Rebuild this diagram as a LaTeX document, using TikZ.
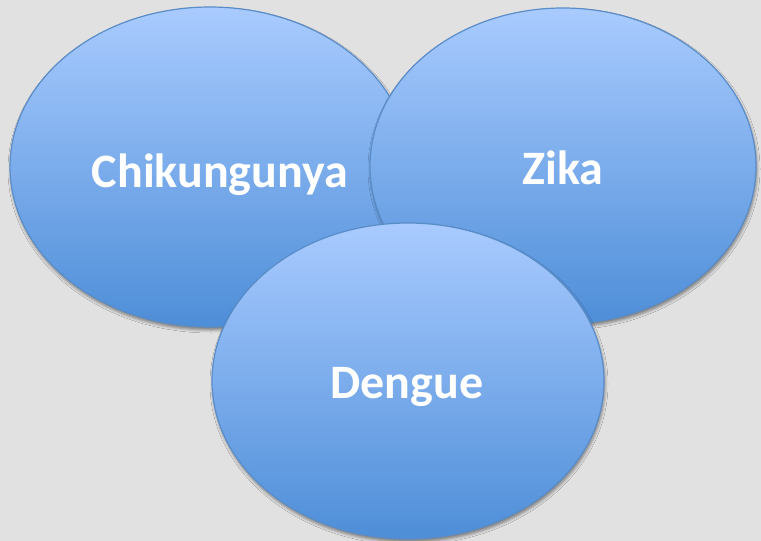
\documentclass[tikz,border=0pt]{standalone}
\usepackage{fontspec}
\setmainfont{Carlito}
\usetikzlibrary{shapes.geometric,shadows.blur}
\definecolor{bg}{HTML}{E1E1E1}
\definecolor{ctop}{HTML}{A9CBFF}
\definecolor{cbot}{HTML}{4E8ED8}
\definecolor{cline}{HTML}{5A8DC8}
\begin{document}
\begin{tikzpicture}[x=1pt,y=-1pt,
  blob/.style={ellipse, draw=cline, line width=1.2pt, top color=ctop, bottom color=cbot,
    inner sep=0pt, blur shadow={shadow xshift=1pt, shadow yshift=-3pt,
    shadow blur radius=3pt, shadow opacity=45}},
  lbl/.style={text=white, font=\fontsize{48}{52}\selectfont\bfseries, anchor=base, inner sep=0pt}]
\fill[bg] (0,0) rectangle (761,541);
\useasboundingbox (0,0) rectangle (761,541);
\node[blob, minimum width=400pt, minimum height=320pt] (chik) at (210,167) {};
\node[blob, minimum width=386pt, minimum height=316pt] (zika) at (563,166) {};
\node[blob, minimum width=392pt, minimum height=316pt] (deng) at (408,381) {};
\node[lbl] (tchik) at (220,187) {Chikungunya};
\node[lbl] (tzika) at (563,184) {Zika};
\node[lbl] (tdeng) at (407,398) {Dengue};
\end{tikzpicture}
\end{document}
